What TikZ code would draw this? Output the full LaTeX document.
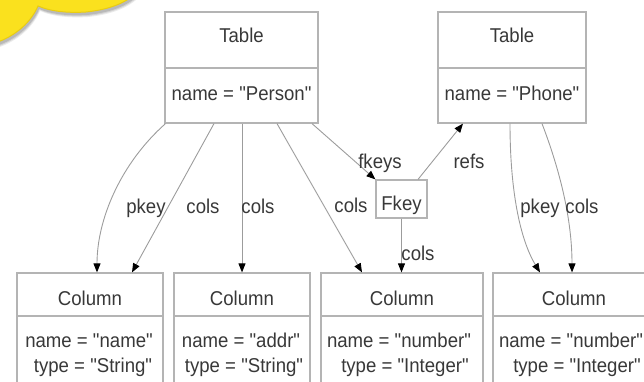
\documentclass[tikz,border=0pt]{standalone}
\usepackage{fontspec}
\setmainfont{Liberation Sans}[FakeStretch=0.93, Ligatures=TeXOff]
\usetikzlibrary{arrows.meta,calc}
\definecolor{ink}{HTML}{383838}
\definecolor{boxline}{HTML}{B4B4B4}
\definecolor{edgeline}{HTML}{9C9C9C}
\definecolor{sun}{HTML}{FAE11E}
\definecolor{sunedge}{HTML}{E9CC12}
\begin{document}
\begin{tikzpicture}[x=1pt,y=-1pt,
  every node/.style={font=\fontsize{20}{22}\selectfont, text=ink},
  classbox/.style={draw=boxline, line width=1.2pt, rectangle, inner sep=0pt},
  txt/.style={anchor=base, inner sep=0pt},
  link/.style={draw=edgeline, line width=0.9pt,
    -{Triangle[length=9pt,width=7pt,color=black]}},
  lbl/.style={anchor=base, inner sep=0pt}]
\useasboundingbox (0,0) rectangle (644,382);
\clip (0,0) rectangle (644,382);

% yellow callout corner with its shadow
\foreach \d/\o in {5/0.08,4/0.10,3/0.12}{
  \fill[black, opacity=\o, shift={(\d*0.4,\d)}]
    (-5,-5) -- (-5,43) .. controls (16,36) and (31,22) .. (38,6)
    .. controls (52,12) and (70,13) .. (86,12)
    .. controls (105,10) and (122,5) .. (134,-5) -- cycle;}
\filldraw[fill=sun, draw=sunedge, line width=1pt]
    (-5,-5) -- (-5,43) .. controls (16,36) and (31,22) .. (38,6)
    .. controls (52,12) and (70,13) .. (86,12)
    .. controls (105,10) and (122,5) .. (134,-5) -- cycle;

% tables
\node[classbox, minimum width=153pt, minimum height=111pt] (person) at (241.5,67.5) {};
\node[classbox, minimum width=148pt, minimum height=111pt] (phone) at (512,67.5) {};
\draw[boxline, line width=1.2pt] (person.west |- 0,68) -- (person.east |- 0,68);
\draw[boxline, line width=1.2pt] (phone.west |- 0,68) -- (phone.east |- 0,68);
\node[txt] (persontitle) at (241.5,43) {Table};
\node[txt] (personname) at (241.5,101) {name = "Person"};
\node[txt] (phonetitle) at (512,43) {Table};
\node[txt] (phonename) at (512,101) {name = "Phone"};

% foreign key
\node[classbox, minimum width=51pt, minimum height=38pt] (fkey) at (401.5,199) {};
\node[txt] (fkeytitle) at (401.5,210) {Fkey};

% columns
\node[classbox, minimum width=146pt, minimum height=119pt] (col1) at (90,332.5) {};
\node[classbox, minimum width=136pt, minimum height=119pt] (col2) at (242,332.5) {};
\node[classbox, minimum width=162pt, minimum height=119pt] (col3) at (402,332.5) {};
\node[classbox, minimum width=162pt, minimum height=119pt] (col4) at (574,332.5) {};
\foreach \c in {col1,col2,col3,col4}{
  \draw[boxline, line width=1.2pt] (\c.west |- 0,316) -- (\c.east |- 0,316);}
\node[txt] (col1title) at (90,305) {Column};
\node[txt] (col1name) at (89,347) {name = "name"};
\node[txt] (col1type) at (93,372) {type = "String"};
\node[txt] (col2title) at (242,305) {Column};
\node[txt] (col2name) at (241,347) {name = "addr"};
\node[txt] (col2type) at (244,372) {type = "String"};
\node[txt] (col3title) at (402,305) {Column};
\node[txt] (col3name) at (399,347) {name = "number"};
\node[txt] (col3type) at (405,372) {type = "Integer"};
\node[txt] (col4title) at (574,305) {Column};
\node[txt] (col4name) at (571,347) {name = "number"};
\node[txt] (col4type) at (577,372) {type = "Integer"};

% connectors
\draw[link] ([xshift=-76pt]person.south) .. controls +(-45,40) and +(0,-53) .. ([xshift=7pt]col1.north);
\draw[link] ([xshift=-27.5pt]person.south) -- ([xshift=42pt]col1.north);
\draw[link] ([xshift=0.5pt]person.south) -- ([xshift=0pt]col2.north);
\draw[link] ([xshift=35.5pt]person.south) -- ([xshift=-40pt]col3.north);
\draw[link] ([xshift=70.5pt]person.south) -- (fkey.north west);
\draw[link] ([xshift=16.5pt]fkey.north) -- ([xshift=-49pt]phone.south);
\draw[link] (fkey.south) -- ([xshift=-0.5pt]col3.north);
\draw[link] ([xshift=-2pt]phone.south) .. controls +(0,67) and +(-20,-33) .. ([xshift=-34pt]col4.north);
\draw[link] ([xshift=30pt]phone.south) .. controls +(18,47) and +(0,-53) .. ([xshift=-2pt]col4.north);

% connector labels
\node[lbl] (l1) at (146,213) {pkey};
\node[lbl] (l2) at (203,213) {cols};
\node[lbl] (l3) at (258,213) {cols};
\node[lbl] (l4) at (351,212) {cols};
\node[lbl] (l5) at (380,168) {fkeys};
\node[lbl] (l6) at (469,168) {refs};
\node[lbl] (l7) at (418,260) {cols};
\node[lbl] (l8) at (540,213) {pkey};
\node[lbl] (l9) at (582,213) {cols};
\end{tikzpicture}
\end{document}
